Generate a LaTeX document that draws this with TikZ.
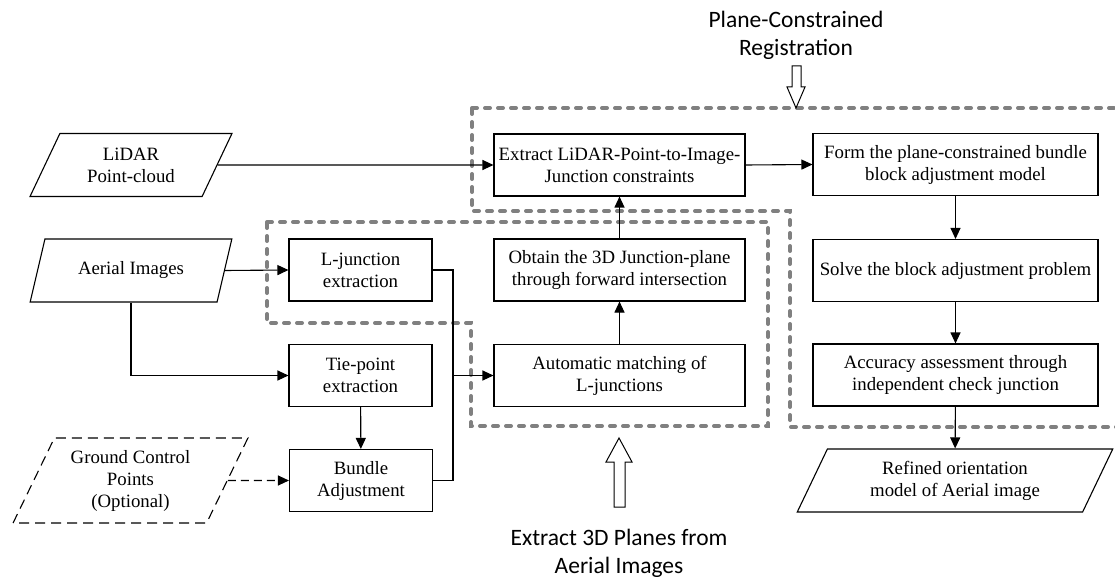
\documentclass[tikz,border=0pt]{standalone}
\usepackage{fontspec}
\setmainfont{Liberation Serif}
\newfontfamily\labelfont{Carlito}
\usetikzlibrary{shapes.geometric, arrows.meta, positioning}

\begin{document}
\begin{tikzpicture}[
    x=1pt, y=-1pt,
    >={Triangle[length=11pt, width=10pt]},
    font=\fontsize{18.8}{22}\selectfont,
    process/.style={
        rectangle, draw=black, line width=1.1pt, fill=white,
        minimum height=62pt, inner sep=0pt, align=center
    },
    datain/.style={
        trapezium, trapezium left angle=62, trapezium right angle=118,
        trapezium stretches=true, draw=black, line width=1.1pt, fill=white,
        minimum height=63pt, inner sep=0pt, align=center
    },
    region/.style={
        draw=regiongray, line width=4pt, line cap=round,
        dash pattern=on 5pt off 8pt
    },
    flow/.style={->, line width=1.1pt, black},
    optflow/.style={->, line width=1.1pt, black, dash pattern=on 8pt off 5pt},
    bigarrow/.style={draw=black, line width=1pt, fill=white},
    caption/.style={font=\labelfont\fontsize{23.5}{28}\selectfont, align=center}
]
\definecolor{regiongray}{RGB}{128,128,128}

\useasboundingbox (0,0) rectangle (1115,577);
\clip (0,0) rectangle (1115,577);

% dashed groups
\draw[region] (472,108) -- (1118,108) -- (1118,427) -- (790,427)
    -- (790,211) -- (472,211) -- cycle;
\draw[region] (267,222) -- (768,222) -- (768,426) -- (471,426)
    -- (471,323) -- (267,323) -- cycle;

% inputs
\node (lidar)  [datain, minimum width=202pt] at (131,165) {LiDAR\\Point-cloud};
\node (aerial) [datain, minimum width=202pt] at (131,270.5) {Aerial Images};
\node (gcp)    [datain, minimum width=235pt, minimum height=85pt, dash pattern=on 10pt off 6pt]
    at (130.5,480.5) {Ground Control\\Points\\(Optional)};

% image side
\node (ljunc)  [process, minimum width=143pt] at (360.5,270) {L-junction\\extraction};
\node (tiept)  [process, minimum width=143pt] at (360.5,375.5) {Tie-point\\extraction};
\node (bundle) [process, minimum width=143pt] at (361,480.5) {Bundle\\Adjustment};

\node (extr)   [process, minimum width=251pt] at (619.5,165)
    {Extract LiDAR-Point-to-Image-\\Junction constraints};
\node (obtain) [process, minimum width=251pt] at (619.5,270)
    {Obtain the 3D Junction-plane\\through forward intersection};
\node (match)  [process, minimum width=251pt] at (619.5,375.5)
    {Automatic matching of\\L-junctions};

% adjustment side
\node (form)   [process, minimum width=285pt] at (955.5,164.5)
    {Form the plane-constrained bundle\\block adjustment model};
\node (solve)  [process, minimum width=285pt] at (955.5,270.5)
    {Solve the block adjustment problem};
\node (assess) [process, minimum width=285pt] at (955.5,375)
    {Accuracy assessment through\\independent check junction};
\node (refined) [datain, trapezium left angle=63, trapezium right angle=117, minimum width=316pt]
    at (955,480.5) {Refined orientation\\model of Aerial image};

\coordinate (bus) at (453,375.5);

\draw[flow] (lidar.east) -- (extr.west);
\draw[flow] (extr.east) -- (form.west);
\draw[flow] (form) -- (solve);
\draw[flow] (solve) -- (assess);
\draw[flow] (assess) -- (refined);

\draw[flow] (aerial.east) -- (ljunc.west);
\draw[flow] (aerial.south) |- (tiept.west);
\draw[flow] (tiept) -- (bundle);
\draw[optflow] (gcp.east) -- (bundle.west);

\draw[line width=1.1pt] (ljunc.east) -| (bus);
\draw[line width=1.1pt] (bundle.east) -| (bus);
\draw[flow] (bus) -- (match.west);
\draw[flow] (match) -- (obtain);
\draw[flow] (obtain) -- (extr);

% group labels
\node (pcr) [caption] at (796,35) {Plane-Constrained\\Registration};
\draw[bigarrow] (792,66) -- (801,66) -- (801,87) -- (805,87) -- (796,108)
    -- (787,87) -- (792,87) -- cycle;

\node (e3d) [caption] at (619,553) {Extract 3D Planes from\\Aerial Images};
\draw[bigarrow] (614,507) -- (625,507) -- (625,462) -- (632,462) -- (619,438)
    -- (606,462) -- (614,462) -- cycle;

\end{tikzpicture}
\end{document}
